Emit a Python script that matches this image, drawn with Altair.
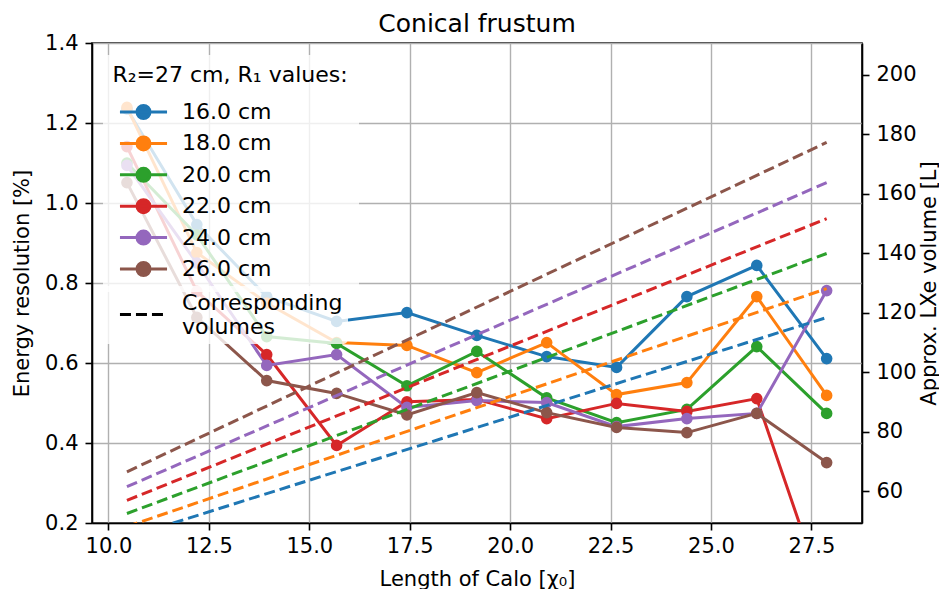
import altair as alt
import pandas as pd

# ---------------- data ----------------
lengths = [10.46, 12.20, 13.94, 15.68, 17.43, 19.17, 20.91, 22.65, 24.40, 26.14, 27.88]
r1_labels = ["16.0 cm", "18.0 cm", "20.0 cm", "22.0 cm", "24.0 cm", "26.0 cm"]
volume_label = "Corresponding volumes"

res_16 = [1.235, 0.946, 0.766, 0.704, 0.726, 0.669, 0.616, 0.589, 0.766, 0.844, 0.611]
res_18 = [1.239, 0.876, 0.750, 0.651, 0.644, 0.576, 0.651, 0.521, 0.551, 0.766, 0.519]
res_20 = [1.100, 0.920, 0.666, 0.649, 0.543, 0.629, 0.513, 0.451, 0.484, 0.641, 0.474]
res_22 = [1.141, 0.779, 0.621, 0.394, 0.503, 0.509, 0.461, 0.499, 0.479, 0.511, 0.000]
res_24 = [1.094, 0.850, 0.594, 0.621, 0.489, 0.506, 0.501, 0.441, 0.461, 0.474, 0.781]
res_26 = [1.051, 0.714, 0.556, 0.524, 0.470, 0.526, 0.476, 0.439, 0.426, 0.474, 0.351]

vol_lengths = [10.46, 27.88]
vol_16 = [44.5, 118.4]
vol_18 = [48.2, 128.1]
vol_20 = [52.6, 139.9]
vol_22 = [57.0, 151.6]
vol_24 = [61.6, 163.7]
vol_26 = [66.6, 177.2]

colors = ["#1f77b4", "#ff7f0e", "#2ca02c", "#d62728", "#9467bd", "#8c564b"]

x_ticks = [10.0, 12.5, 15.0, 17.5, 20.0, 22.5, 25.0, 27.5]
y_ticks = [0.2, 0.4, 0.6, 0.8, 1.0, 1.2, 1.4]
v_ticks = [60, 80, 100, 120, 140, 160, 180, 200]

# ---------------- tables ----------------
res_all = [res_16, res_18, res_20, res_22, res_24, res_26]
vol_all = [vol_16, vol_18, vol_20, vol_22, vol_24, vol_26]

rows = []
for lab, vals in zip(r1_labels, res_all):
    for x, v in zip(lengths, vals):
        rows.append({"length": x, "res": v, "r1": lab})
df = pd.DataFrame(rows)

vrows = []
for lab, vals in zip(r1_labels, vol_all):
    for x, v in zip(vol_lengths, vals):
        vrows.append({"length": x, "vol": v, "r1": lab, "kind": volume_label})
dfv = pd.DataFrame(vrows)

FONT = "DejaVu Sans"
FS = 21
LFS = 22

LINE_DOT = "M-2.14,0H2.14M-0.59,0A0.59,0.59,0,1,1,0.59,0A0.59,0.59,0,1,1,-0.59,0Z"
LINE_LOW = "M-2.14,1.05H2.14"

stroke_scale = alt.Scale(domain=r1_labels, range=colors)
fill_scale = alt.Scale(domain=r1_labels, range=colors)

BOX_FILL = "rgba(255,255,255,0.8)"

leg = alt.Legend(
    title="R₂=27 cm, R₁ values:",
    orient="none", legendX=10.5, legendY=11.5, direction="vertical",
    fillColor=BOX_FILL, strokeColor="transparent", cornerRadius=5,
    padding=10,
    titleFont=FONT, titleFontSize=LFS, titleFontWeight="normal", titleColor="black",
    titlePadding=13, titleLimit=500,
    labelFont=FONT, labelFontSize=LFS, labelColor="black", labelLimit=500,
    labelOffset=26, symbolOffset=18.5, symbolSize=484, symbolStrokeWidth=3,
    symbolType=LINE_DOT, symbolOpacity=1, rowPadding=6.4,
)

leg2 = alt.Legend(
    title=None,
    orient="none", legendX=10.5, legendY=242.5, direction="vertical",
    fillColor=BOX_FILL, strokeColor="transparent", cornerRadius=5,
    padding=5,
    labelFont=FONT, labelFontSize=LFS, labelColor="black", labelLimit=500,
    labelOffset=26, symbolOffset=23.5, symbolSize=484, symbolStrokeWidth=3,
    symbolType=LINE_LOW, symbolStrokeColor="black", symbolOpacity=1,
    labelExpr="['Corresponding\u00a0', 'volumes']",
)

axis_common = dict(
    tickSize=7, tickWidth=1.6, tickColor="black",
    domainColor="black", domainWidth=1.6,
    labelFont=FONT, labelFontSize=FS, labelColor="black",
    titleFont=FONT, titleFontSize=FS, titleFontWeight="normal", titleColor="black",
)

x_enc = alt.X(
    "length:Q",
    scale=alt.Scale(domain=[9.59, 28.76], nice=False, zero=False),
    axis=alt.Axis(
        values=x_ticks, format=".1f", labelPadding=5, labelFlush=False,
        gridColor="#b0b0b0", gridWidth=1.4,
        title="Length of Calo [χ₀]", titleX=385, titleY=62,
        titleAlign="center", titleBaseline="alphabetic", **axis_common,
    ),
)

y_left = alt.Y(
    "res:Q",
    scale=alt.Scale(domain=[0.2, 1.4], nice=False, zero=False),
    axis=alt.Axis(
        values=y_ticks, format=".1f", labelPadding=7, labelFlush=False,
        gridColor="#b0b0b0", gridWidth=1.4,
        title="Energy resolution [%]", titleAngle=270, titleX=-70, titleY=240,
        titleAlign="center", titleBaseline="middle", **axis_common,
    ),
)

y_right = alt.Y(
    "vol:Q",
    scale=alt.Scale(domain=[49.4, 210.6], nice=False, zero=False),
    axis=alt.Axis(
        orient="right", values=v_ticks, format="d", labelPadding=7, labelFlush=False,
        grid=False,
        title="Approx. LXe volume [L]", titleAngle=270, titleX=67, titleY=240,
        titleAlign="center", titleBaseline="middle", **axis_common,
    ),
)

lines = alt.Chart(df).mark_line(strokeWidth=3, clip=True).encode(
    x=x_enc, y=y_left,
    stroke=alt.Stroke("r1:N", scale=stroke_scale, legend=leg),
)

points = alt.Chart(df).mark_point(filled=True, size=135, opacity=1, clip=True).encode(
    x=x_enc, y=y_left,
    fill=alt.Fill("r1:N", scale=fill_scale, legend=leg),
)

volumes = alt.Chart(dfv).mark_line(strokeWidth=3, clip=True).encode(
    x=x_enc, y=y_right,
    stroke=alt.Stroke("r1:N", scale=stroke_scale, legend=None),
    strokeDash=alt.StrokeDash(
        "kind:N", scale=alt.Scale(domain=[volume_label], range=[[11, 5]]), legend=leg2
    ),
    detail="r1:N",
)

left = alt.layer(lines, points)

chart = alt.layer(left, volumes).resolve_scale(y="independent").properties(
    width=770, height=480,
    title=alt.Title(
        "Conical frustum", font=FONT, fontSize=25, fontWeight="normal", color="black",
        offset=-5, frame="group", anchor="middle",
    ),
    autosize=alt.AutoSizeParams(type="none"),
    padding={"left": 84, "top": 35, "right": 77, "bottom": 70},
).configure(font=FONT).configure_view(stroke="black", strokeWidth=1.6)

chart.save("out.html", embed_options={"renderer": "svg", "actions": False})
